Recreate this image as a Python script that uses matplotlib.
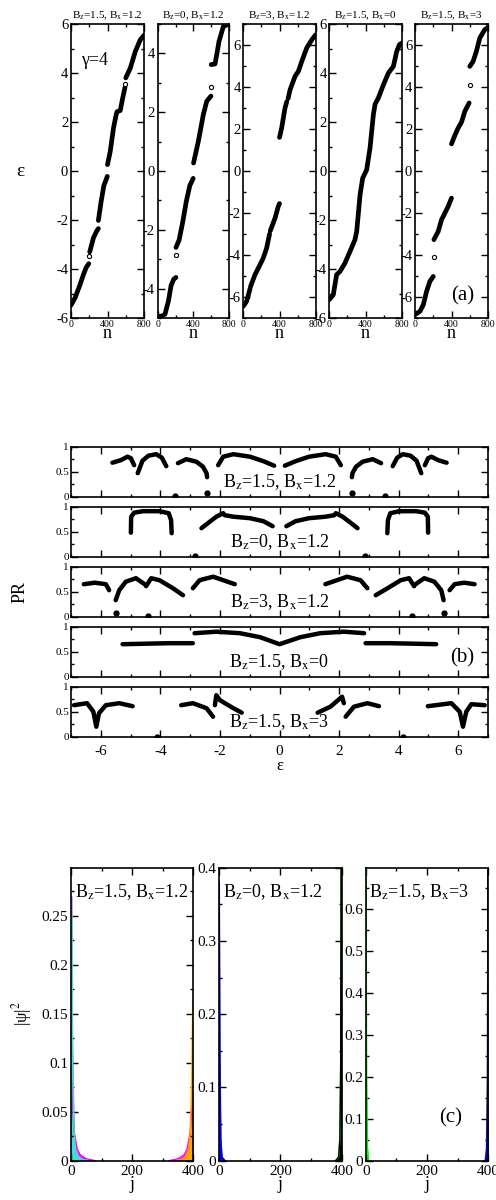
import numpy as np
import matplotlib
matplotlib.use('Agg')
import matplotlib.pyplot as plt
from matplotlib.ticker import MultipleLocator, FormatStrFormatter

plt.rcParams['font.family'] = ['Liberation Serif', 'DejaVu Serif']
plt.rcParams['mathtext.fontset'] = 'stix'
plt.rcParams['axes.unicode_minus'] = False

W, H = 496, 1200

# --- panel (a): spectra eps(n), segments ---
A_TITLES = [r"B$_{\rm z}$=1.5, B$_{\rm x}$=1.2", r"B$_{\rm z}$=0, B$_{\rm x}$=1.2",
            r"B$_{\rm z}$=3, B$_{\rm x}$=1.2", r"B$_{\rm z}$=1.5, B$_{\rm x}$=0",
            r"B$_{\rm z}$=1.5, B$_{\rm x}$=3"]
A_YLIM = [6, 5, 7, 6, 7]

A1_N = [[0, 44, 99, 136, 165, 195], [205, 246, 283, 300],
        [300, 330, 360, 398], [400, 430, 466, 495, 505, 540, 565, 592],
        [600, 650, 705, 760, 800]]
A1_E = [[-5.48, -5.18, -4.64, -4.23, -3.95, -3.78], [-3.3, -2.73, -2.44, -2.35],
        [-2.02, -1.25, -0.6, -0.22], [0.26, 0.8, 1.76, 2.3, 2.42, 2.47, 2.95, 3.42],
        [3.8, 4.2, 4.88, 5.36, 5.54]]
A1_OPEN = ([198, 594], [-3.45, 3.55])

A2_N = [[0, 50, 82, 120, 150, 180, 205], [205, 240, 280, 320, 360, 398],
        [402, 456, 512, 550, 598], [600, 643, 665, 688, 737, 800]]
A2_E = [[-4.95, -4.93, -4.87, -4.43, -3.9, -3.68, -3.62], [-2.6, -2.35, -1.75, -1.05, -0.5, -0.25],
        [0.27, 1.01, 1.92, 2.37, 2.55], [3.62, 3.64, 4.0, 4.41, 4.92, 5.0]]
A2_OPEN = ([200, 598], [-2.85, 2.85])

A3_N = [[0, 37, 75], [80, 129, 185, 221, 258, 290], [298, 351, 387, 400],
        [400, 424, 461, 480], [495, 517, 572, 609, 646, 701, 757, 800]]
A3_E = [[-6.44, -6.2, -5.6], [-5.5, -4.94, -4.46, -4.14, -3.67, -3.0], [-2.85, -2.24, -1.68, -1.55],
        [1.6, 2.05, 3.0, 3.3], [3.45, 3.87, 4.51, 4.75, 5.22, 5.86, 6.25, 6.49]]
A3_OPEN = ([], [])

A4_N = [[0, 44, 81, 118, 173, 229, 284, 303, 340, 369, 413, 450, 487, 506, 542, 598, 653, 708,
         745, 775, 800]]
A4_E = [[-5.25, -5.05, -4.23, -4.1, -3.76, -3.28, -2.8, -2.46, -0.97, -0.29, 0.05, 0.94, 2.3, 2.73,
         2.98, 3.52, 4.0, 4.27, 4.88, 5.16, 5.22]]
A4_OPEN = ([], [])

A5_N = [[0, 55, 91, 127, 164, 200], [207, 255, 291, 328, 364, 400],
        [400, 437, 473, 510, 546, 593], [600, 637, 673, 710, 764, 800]]
A5_E = [[-6.84, -6.68, -6.37, -5.73, -5.25, -5.02], [-3.27, -2.87, -2.32, -2.0, -1.68, -1.29],
        [1.29, 1.7, 2.05, 2.33, 2.84, 3.24], [4.98, 5.22, 5.7, 6.33, 6.73, 6.84]]
A5_OPEN = ([205, 600], [-4.11, 4.11])

A_DATA = [(A1_N, A1_E, A1_OPEN), (A2_N, A2_E, A2_OPEN), (A3_N, A3_E, A3_OPEN),
          (A4_N, A4_E, A4_OPEN), (A5_N, A5_E, A5_OPEN)]

# --- panel (b): participation ratio vs eps ---
B_LABELS = A_TITLES

B1_E = [[-5.61, -5.33, -5.1, -4.99, -4.88], [-4.76, -4.6, -4.4, -4.14, -3.95, -3.8],
        [-3.41, -3.13, -2.79, -2.57, -2.45, -2.43], [-2.06, -1.89, -1.55, -0.99, -0.54, -0.18],
        [0.18, 0.54, 0.99, 1.55, 1.89, 2.06], [2.43, 2.45, 2.57, 2.79, 3.13, 3.41],
        [3.8, 3.95, 4.14, 4.4, 4.6, 4.76], [4.88, 4.99, 5.1, 5.33, 5.61]]
B1_P = [[0.68, 0.73, 0.8, 0.77, 0.63], [0.47, 0.72, 0.82, 0.85, 0.78, 0.61],
        [0.67, 0.75, 0.7, 0.6, 0.47, 0.39], [0.63, 0.8, 0.85, 0.8, 0.71, 0.62],
        [0.62, 0.71, 0.8, 0.85, 0.8, 0.63], [0.39, 0.47, 0.6, 0.7, 0.75, 0.67],
        [0.61, 0.78, 0.85, 0.82, 0.72, 0.47], [0.63, 0.77, 0.8, 0.73, 0.68]]
B1_DOTS = ([-3.5, -2.42, 2.44, 3.54], [0.02, 0.07, 0.07, 0.02])

B2_E = [[-4.99, -4.98, -4.88, -4.59, -4.03, -3.72, -3.64, -3.62],
        [-2.62, -2.34, -2.12, -1.89, -1.84, -1.55, -0.99, -0.54, -0.23],
        [0.23, 0.54, 0.99, 1.55, 1.84, 1.89, 2.12, 2.34, 2.62],
        [3.62, 3.64, 3.72, 4.03, 4.59, 4.88, 4.98, 4.99]]
B2_P = [[0.48, 0.8, 0.88, 0.91, 0.91, 0.87, 0.73, 0.47],
        [0.57, 0.7, 0.8, 0.87, 0.83, 0.8, 0.77, 0.71, 0.61],
        [0.61, 0.71, 0.77, 0.8, 0.83, 0.87, 0.8, 0.7, 0.57],
        [0.47, 0.73, 0.87, 0.91, 0.91, 0.88, 0.8, 0.48]]
B2_DOTS = ([-2.85, 2.87], [0.01, 0.01])

B3_E = [[-6.57, -6.2, -5.83, -5.72], [-5.5, -5.38, -5.16, -4.82, -4.48],
        [-4.48, -4.31, -4.03, -3.58, -3.24], [-2.91, -2.68, -2.23, -1.5],
        [1.54, 2.27, 2.72, 2.95], [3.23, 3.63, 4.07, 4.35, 4.52],
        [4.52, 4.86, 5.2, 5.43, 5.51], [5.71, 5.88, 6.2, 6.55]]
B3_P = [[0.65, 0.68, 0.65, 0.53], [0.33, 0.53, 0.7, 0.77, 0.63],
        [0.61, 0.77, 0.73, 0.57, 0.43], [0.57, 0.73, 0.8, 0.65],
        [0.65, 0.8, 0.73, 0.57], [0.43, 0.57, 0.73, 0.77, 0.61],
        [0.63, 0.77, 0.7, 0.53, 0.33], [0.53, 0.65, 0.68, 0.65]]
B3_DOTS = ([-5.5, -4.43, 4.45, 5.51], [0.07, 0.01, 0.01, 0.07])

B4_E = [[-5.27, -4.5, -3.7, -2.91], [-2.85, -2.12, -1.33, -0.65, 0.0, 0.7, 1.37, 2.16, 2.84],
        [2.89, 3.7, 4.5, 5.26]]
B4_P = [[0.65, 0.66, 0.67, 0.67], [0.87, 0.9, 0.87, 0.79, 0.65, 0.79, 0.87, 0.9, 0.87],
        [0.67, 0.67, 0.66, 0.65]]
B4_DOTS = ([], [])

B5_E = [[-6.9, -6.46, -6.25, -6.15, -6.06, -5.83, -5.38, -4.93],
        [-3.3, -2.91, -2.45, -2.23], [-2.17, -2.12, -2.0, -1.55, -1.27],
        [1.28, 1.71, 2.1, 2.16], [2.22, 2.5, 2.95, 3.34],
        [4.98, 5.77, 6.05, 6.16, 6.27, 6.44, 6.89]]
B5_P = [[0.63, 0.67, 0.5, 0.2, 0.47, 0.63, 0.67, 0.61],
        [0.63, 0.67, 0.57, 0.4], [0.63, 0.83, 0.73, 0.57, 0.48],
        [0.48, 0.6, 0.8, 0.67], [0.4, 0.6, 0.67, 0.61],
        [0.61, 0.67, 0.5, 0.2, 0.5, 0.65, 0.63]]
B5_DOTS = ([-4.12, 4.13], [0.0, 0.0])

B_DATA = [(B1_E, B1_P, B1_DOTS), (B2_E, B2_P, B2_DOTS), (B3_E, B3_P, B3_DOTS),
          (B4_E, B4_P, B4_DOTS), (B5_E, B5_P, B5_DOTS)]

# --- panel (c): |psi|^2 of edge states vs site j ---
C_LABELS = [A_TITLES[0], A_TITLES[1], A_TITLES[4]]
C_YMAX = [0.299, 0.4, 0.699]
C_YMAJ = [0.05, 0.1, 0.1]

C1_CURVES = [
    ([0, 2, 5, 10, 15, 25, 40, 60], [0.0, 0.27, 0.12, 0.03, 0.012, 0.004, 0.001, 0.0], '#8c8cff'),
    ([0, 2, 5, 10, 20, 30, 50, 80], [0.0, 0.09, 0.06, 0.03, 0.012, 0.006, 0.002, 0.0], '#ff00ff'),
    ([0, 2, 5, 10, 15, 25, 40, 60], [0.0, 0.25, 0.1, 0.03, 0.012, 0.004, 0.001, 0.0], '#40e0d0'),
    ([400, 398, 395, 390, 380, 370, 350, 320], [0.0, 0.07, 0.05, 0.03, 0.012, 0.006, 0.002, 0.0], '#ff00ff'),
    ([400, 398, 395, 390, 385, 375, 360, 340], [0.0, 0.165, 0.08, 0.03, 0.012, 0.004, 0.001, 0.0], '#ffa500'),
]
C2_CURVES = [
    ([0, 1, 3, 6, 10, 20], [0.0, 0.38, 0.15, 0.03, 0.005, 0.0], '#0000ff'),
    ([400, 399, 397, 394, 390, 380], [0.0, 0.4, 0.15, 0.03, 0.005, 0.0], '#00ff00'),
    ([400, 399, 397, 394, 390, 380], [0.0, 0.4, 0.14, 0.03, 0.005, 0.0], '#000000'),
]
C3_CURVES = [
    ([0, 1, 3, 6, 10], [0.0, 0.7, 0.2, 0.03, 0.0], '#00ff00'),
    ([400, 399, 397, 394, 390], [0.0, 0.7, 0.2, 0.03, 0.0], '#2a1a66'),
    ([400, 399, 397, 394, 390], [0.0, 0.15, 0.05, 0.01, 0.0], '#0000ff'),
]
C_DATA = [C1_CURVES, C2_CURVES, C3_CURVES]


def box(x0, x1, y0, y1):
    return [x0 / W, 1 - y1 / H, (x1 - x0) / W, (y1 - y0) / H]


def style(ax, size):
    ax.tick_params(which='both', direction='in', top=True, right=True, labelsize=size, width=1)
    ax.tick_params(which='major', length=5)
    ax.tick_params(which='minor', length=2.5)
    for s in ax.spines.values():
        s.set_linewidth(1.2)


fig = plt.figure(figsize=(W / 100, H / 100), dpi=100)

# (a)
a_x = [(71, 144), (157.7, 229), (243.3, 315.7), (329.3, 401.7), (415, 488)]
for i, (x0, x1) in enumerate(a_x):
    ax = fig.add_axes(box(x0, x1, 24, 318))
    segs_n, segs_e, opn = A_DATA[i]
    for n, e in zip(segs_n, segs_e):
        ax.plot(n, e, color='black', lw=3.4, solid_capstyle='round', solid_joinstyle='round')
    if opn[0]:
        ax.plot(opn[0], opn[1], 'o', ms=3, mfc='white', mec='black', mew=0.8)
    ym = A_YLIM[i]
    ax.set_xlim(0, 800)
    ax.set_ylim(-ym, ym)
    ax.xaxis.set_major_locator(MultipleLocator(400))
    ax.xaxis.set_minor_locator(MultipleLocator(200))
    ax.yaxis.set_major_locator(MultipleLocator(2))
    ax.yaxis.set_minor_locator(MultipleLocator(1))
    style(ax, 10.5)
    ax.tick_params(axis='x', labelsize=7, pad=1.5)
    ax.tick_params(axis='y', pad=2)
    ax.set_xlabel('n', fontsize=13, labelpad=-3)
    ax.set_title(A_TITLES[i], fontsize=8, pad=4)
    if i == 0:
        ax.text(0.14, 0.86, 'γ=4', transform=ax.transAxes, fontsize=13)
    if i == 4:
        ax.text(0.5, 0.06, '(a)', transform=ax.transAxes, fontsize=15)
fig.text(20 / W, 1 - 171 / H, 'ε', fontsize=14, ha='center', va='center')

# (b)
for i in range(5):
    top = 446.7 + 60 * i
    ax = fig.add_axes(box(71, 488, top, top + 50))
    segs_e, segs_p, dots = B_DATA[i]
    for e, p in zip(segs_e, segs_p):
        ax.plot(e, p, color='black', lw=3.2, solid_capstyle='round', solid_joinstyle='round')
    if dots[0]:
        ax.plot(dots[0], dots[1], 'o', ms=3.5, color='black')
    ax.set_xlim(-7, 7)
    ax.set_ylim(0, 1)
    ax.xaxis.set_major_locator(MultipleLocator(2))
    ax.xaxis.set_minor_locator(MultipleLocator(1))
    ax.yaxis.set_major_locator(MultipleLocator(0.5))
    ax.yaxis.set_minor_locator(MultipleLocator(0.25))
    ax.yaxis.set_major_formatter(FormatStrFormatter('%g'))
    style(ax, 8)
    ax.tick_params(axis='y', pad=1.5)
    ax.text(0.5, 0.2, B_LABELS[i], transform=ax.transAxes, fontsize=13, ha='center')
    if i < 4:
        ax.tick_params(axis='x', labelbottom=False)
    else:
        ax.tick_params(axis='x', labelsize=11, pad=6)
        ax.set_xlabel('ε', fontsize=12, labelpad=0)
    if i == 3:
        ax.text(0.91, 0.28, '(b)', transform=ax.transAxes, fontsize=15)
fig.text(20 / W, 1 - 591.7 / H, 'PR', rotation=90, fontsize=13, ha='center', va='center')

# (c)
c_x = [(71, 193.3), (219, 341.7), (365.7, 488.3)]
for i, (x0, x1) in enumerate(c_x):
    ax = fig.add_axes(box(x0, x1, 867.7, 1160.7))
    for j, v, col in C_DATA[i]:
        ax.fill_between(j, v, color=col, lw=0)
        ax.plot(j, v, color=col, lw=1)
    ax.set_xlim(0, 400)
    ax.set_ylim(0, C_YMAX[i])
    ax.xaxis.set_major_locator(MultipleLocator(200))
    ax.xaxis.set_minor_locator(MultipleLocator(100))
    ax.yaxis.set_major_locator(MultipleLocator(C_YMAJ[i]))
    ax.yaxis.set_minor_locator(MultipleLocator(C_YMAJ[i] / 2))
    ax.yaxis.set_major_formatter(FormatStrFormatter('%g'))
    style(ax, 11)
    ax.tick_params(axis='y', pad=2)
    ax.tick_params(axis='x', pad=3)
    ax.set_xlabel('j', fontsize=13, labelpad=-1)
    ax.text(0.03, 0.9, C_LABELS[i], transform=ax.transAxes, fontsize=13)
    if i == 2:
        ax.text(0.6, 0.13, '(c)', transform=ax.transAxes, fontsize=15)
fig.text(22 / W, 1 - 1014 / H, r'|ψ|$^2$', rotation=90, fontsize=12, ha='center', va='center')

fig.savefig('out.png', dpi=100)
